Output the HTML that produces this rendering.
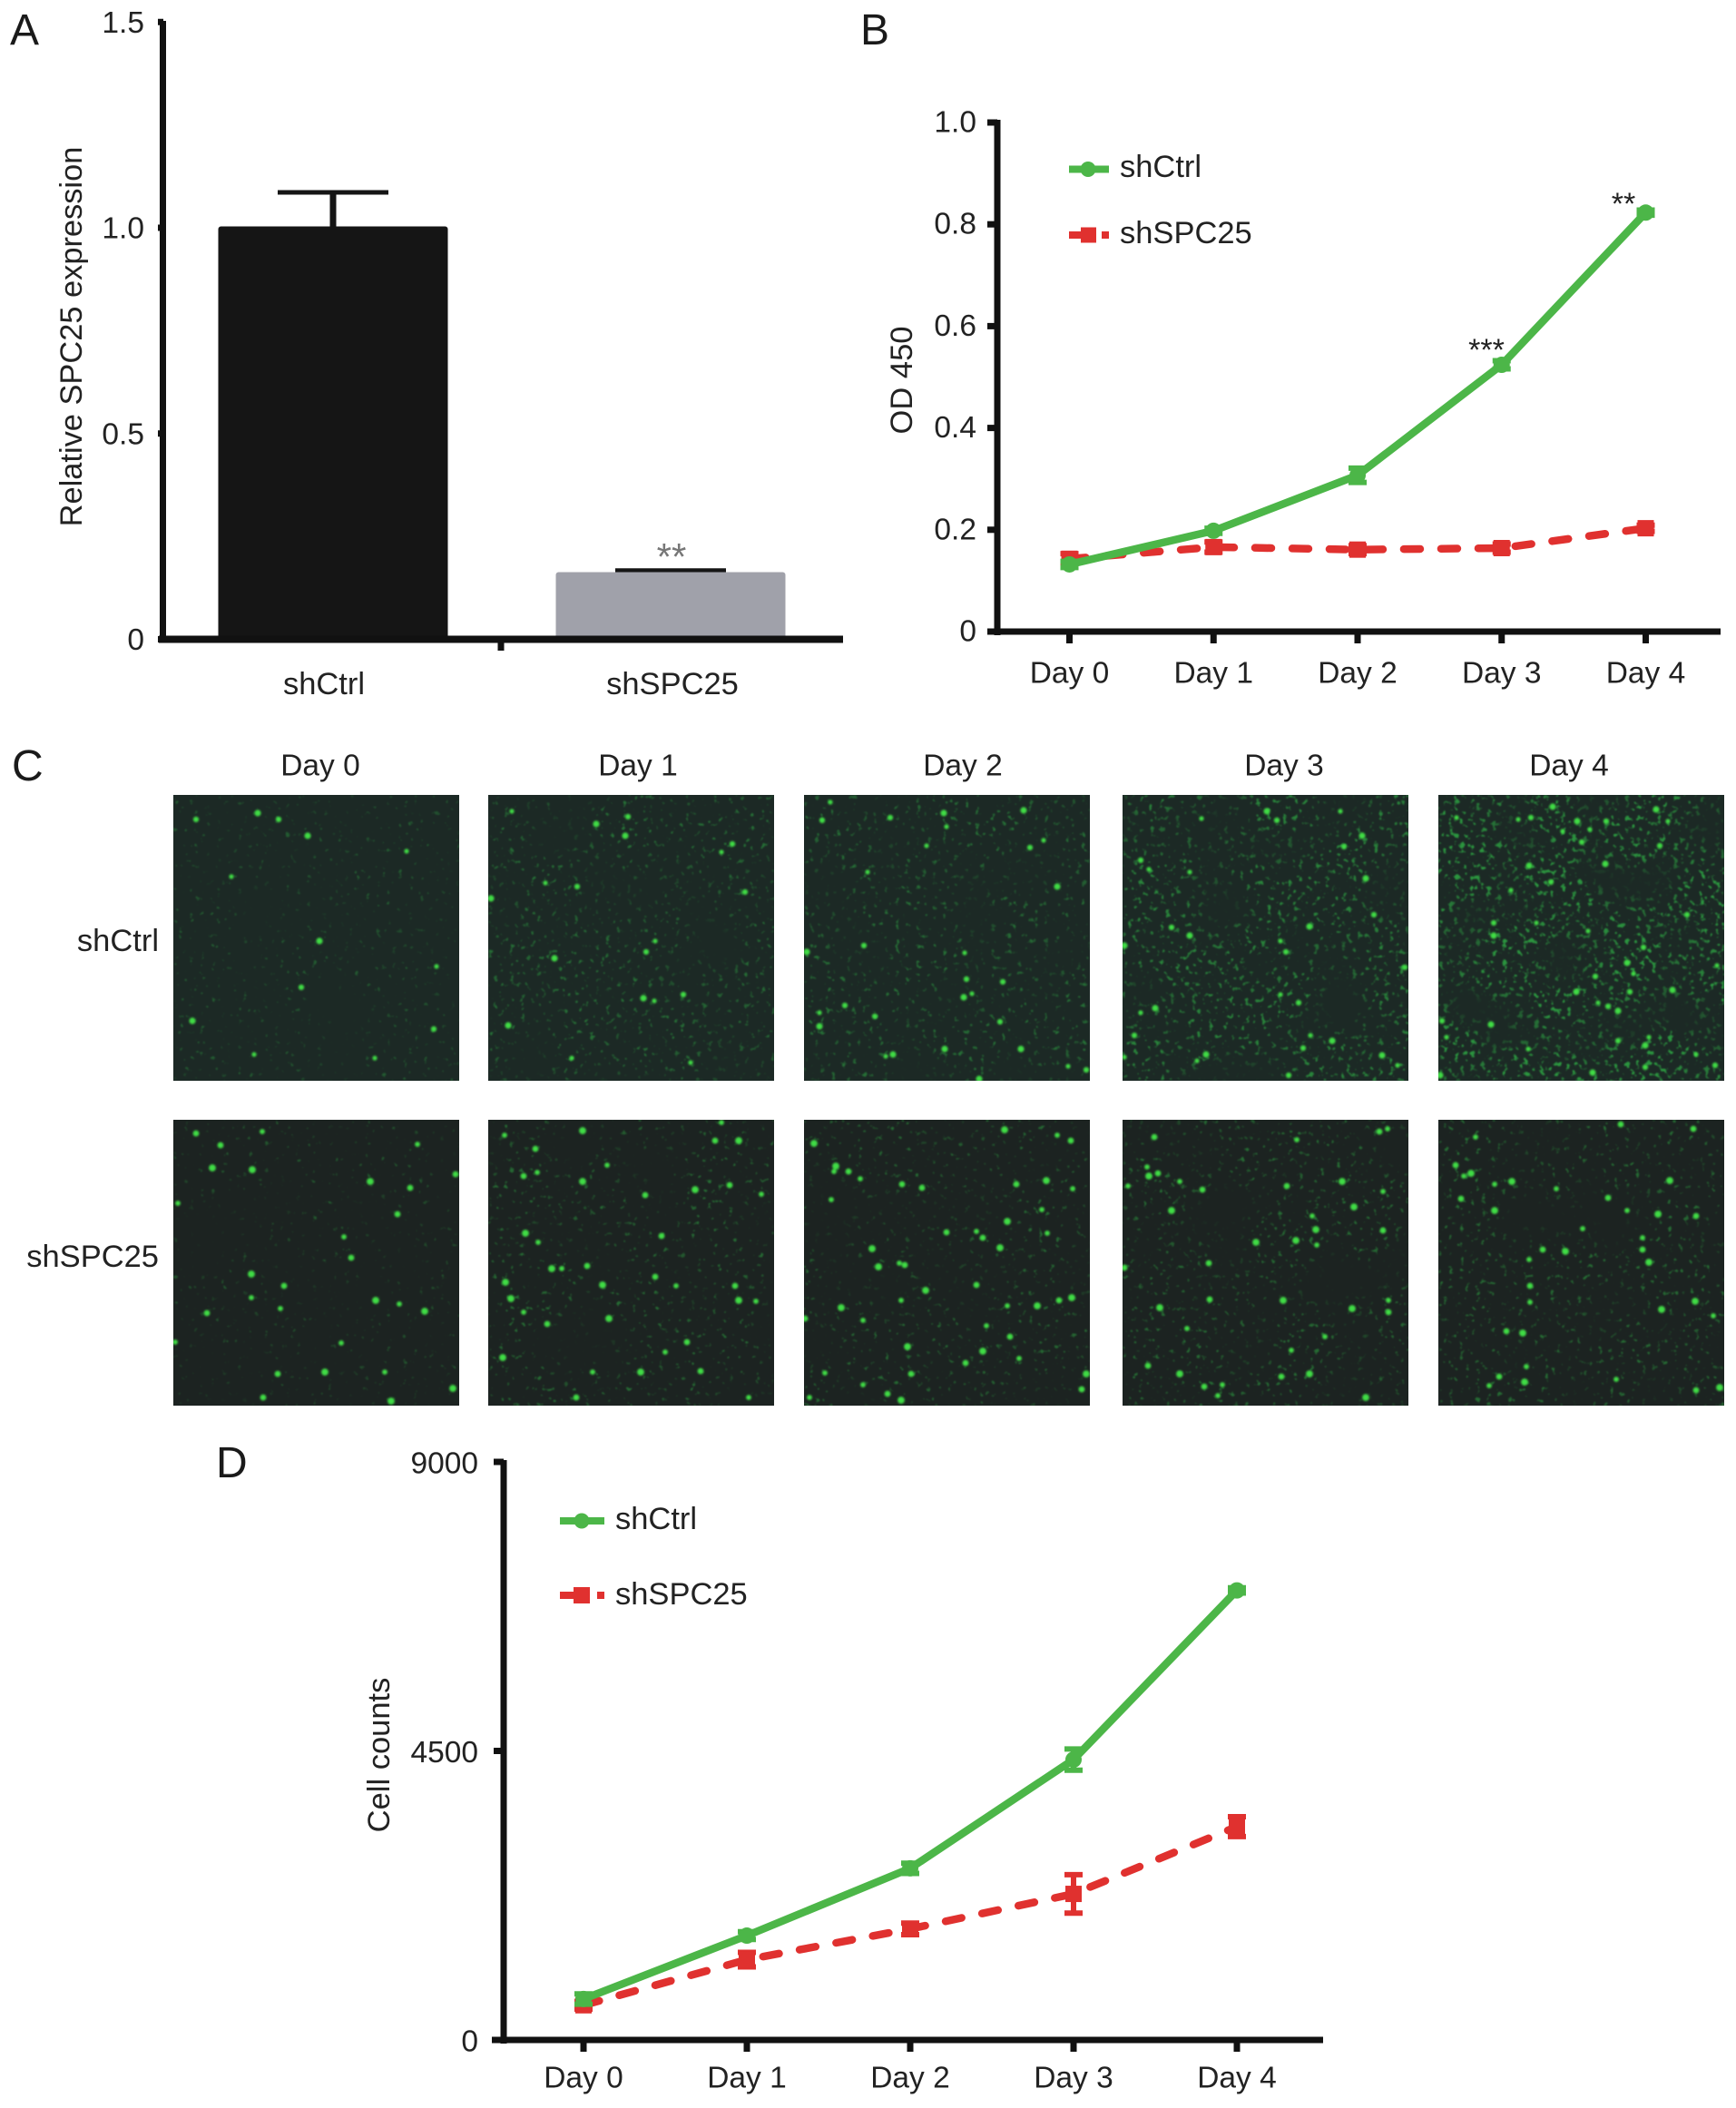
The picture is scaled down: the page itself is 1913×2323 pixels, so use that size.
<!DOCTYPE html>
<html lang="en">
<head>
<meta charset="utf-8">
<title>SPC25 knockdown figure</title>
<style>
  html, body { margin: 0; padding: 0; background: #fff; }
  svg { display: block; }
  text { font-family: "Liberation Sans", sans-serif; fill: #222; font-size: 34.5px; }
  .tick { font-size: 33.5px; }
  .letter { font-size: 48px; fill: #1a1a1a; }
</style>
</head>
<body>
<svg id="figure" xmlns="http://www.w3.org/2000/svg" width="1913" height="2323" viewBox="0 0 1913 2323">
  <rect x="0" y="0" width="1913" height="2323" fill="#ffffff"/>
  <defs id="filters">
    <filter id="spot-blur" x="-5%" y="-5%" width="110%" height="110%"><feGaussianBlur stdDeviation="1"/></filter>
  </defs>

  <text class="letter" x="11" y="49">A</text>
  <text class="letter" x="948" y="49">B</text>
  <text class="letter" x="13" y="860">C</text>
  <text class="letter" x="238" y="1628">D</text>

  <g id="panel-a">
    <text transform="translate(79 371) rotate(-90)" text-anchor="middle" dominant-baseline="central" style="font-size:34.4px">Relative SPC25 expression</text>
  </g>

  <g id="panel-b">
    <text transform="translate(994 419) rotate(-90)" text-anchor="middle" dominant-baseline="central">OD 450</text>
    <line x1="1178" y1="186.5" x2="1222" y2="186.5" stroke="#4cb648" stroke-width="8"/>
    <circle cx="1199" cy="186.5" r="8.5" fill="#4cb648"/>
    <text x="1234" y="184" dominant-baseline="central">shCtrl</text>
    <line x1="1178" y1="259" x2="1222" y2="259" stroke="#e0312f" stroke-width="8" stroke-dasharray="26 10 8"/>
    <rect x="1191" y="250.500" width="17" height="17" fill="#e0312f"/>
    <text x="1234" y="257" dominant-baseline="central">shSPC25</text>
    <text x="1789" y="236" text-anchor="middle" style="font-size:34px">**</text>
    <text x="1638" y="397" text-anchor="middle" style="font-size:34px">***</text>
  </g>

  <g id="panel-c">
    <text x="175" y="1037" text-anchor="end" dominant-baseline="central">shCtrl</text>
    <text x="175" y="1385" text-anchor="end" dominant-baseline="central">shSPC25</text>
  </g>

  <g id="panel-d">
    <text transform="translate(418 1934) rotate(-90)" text-anchor="middle" dominant-baseline="central">Cell counts</text>
    <line x1="617" y1="1676" x2="666" y2="1676" stroke="#4cb648" stroke-width="8"/>
    <circle cx="641" cy="1676" r="8.5" fill="#4cb648"/>
    <text x="678" y="1674" dominant-baseline="central">shCtrl</text>
    <line x1="617" y1="1758" x2="666" y2="1758" stroke="#e0312f" stroke-width="8" stroke-dasharray="30 11 8"/>
    <rect x="632" y="1749" width="18" height="18" fill="#e0312f"/>
    <text x="678" y="1757" dominant-baseline="central">shSPC25</text>
  </g>
</svg>

<script>
// ---- Panel A data ----
const barCategories = ["shCtrl", "shSPC25"];
const barValues = [1.0, 0.16];
const barErrors = [0.086, 0.007];
const barTickValues = [0, 0.5, 1.0, 1.5];
const barTickLabels = ["0", "0.5", "1.0", "1.5"];

// ---- Panel B data ----
const dayLabels = ["Day 0", "Day 1", "Day 2", "Day 3", "Day 4"];
const odTickValues = [0, 0.2, 0.4, 0.6, 0.8, 1.0];
const odTickLabels = ["0", "0.2", "0.4", "0.6", "0.8", "1.0"];
const odShCtrl = [0.132, 0.198, 0.307, 0.524, 0.823];
const odShCtrlErr = [0.006, 0.005, 0.014, 0.008, 0.005];
const odShSPC25 = [0.143, 0.166, 0.161, 0.164, 0.203];
const odShSPC25Err = [0.01, 0.01, 0.008, 0.008, 0.006];

// ---- Panel D data ----
const countTickValues = [0, 4500, 9000];
const countTickLabels = ["0", "4500", "9000"];
const countShCtrl = [637, 1624, 2672, 4365, 6999];
const countShCtrlErr = [80, 60, 80, 165, 40];
const countShSPC25 = [540, 1250, 1729, 2274, 3321];
const countShSPC25Err = [60, 113, 90, 300, 155];

// ---- Panel C content: bright cells (x,y pairs, 315px tile) ----
const ctrlSpots = [
 [257,62,141,212,21,249,89,286,287,258,161,161,222,290,116,27,148,45,64,90,25,27,93,20,290,189],
 [26,18,154,24,119,32,257,63,269,54,3,114,63,97,98,101,73,180,184,161,174,173,171,224,183,227,215,220,22,254,92,290,283,107,151,45,223,295],
 [29,8,20,28,154,20,157,35,95,25,242,17,264,50,249,58,279,101,70,85,66,166,3,173,177,174,179,203,176,223,185,219,45,232,17,255,17,240,78,244,98,286,90,288,216,250,239,280,291,299,311,303,193,313,135,56,219,206,155,280],
 [87,26,170,28,159,18,240,18,244,57,264,45,29,82,20,72,268,92,174,161,180,173,206,145,174,220,194,229,36,235,20,240,13,265,92,286,82,293,183,309,231,271,207,265,199,279,286,287,303,298,311,190,74,155,74,85,277,132,2,166,2,289,54,146],
 [88,27,102,25,153,29,167,38,185,29,240,16,253,29,244,56,184,76,108,141,61,141,61,155,165,150,226,168,208,185,307,188,173,200,152,217,176,229,187,233,198,238,215,197,211,217,258,215,9,267,4,249,58,253,99,280,198,271,228,276,232,267,228,300,170,306,284,286,305,298,2,309,20,25,274,132,126,13,137,40,158,52,100,78,80,105,124,96]
];
const knockdownSpots = [
 [269,27,52,28,43,53,5,92,261,75,217,68,188,129,196,152,223,199,118,208,37,213,277,211,185,246,115,280,167,278,233,278,99,306,308,296,86,196,122,183,86,170,249,203,247,104,87,55,98,13,25,15,240,310,2,245,311,60],
 [18,17,52,32,104,12,54,58,39,62,104,68,131,50,250,23,276,23,257,3,266,72,228,77,301,82,173,83,41,125,55,135,191,128,70,164,81,164,109,161,19,179,207,183,272,183,276,199,295,200,184,173,25,197,39,212,65,225,133,219,195,256,219,245,16,262,115,278,97,306,168,278,287,306,234,277,126,182],
 [279,17,294,23,221,11,62,65,49,57,35,51,33,57,108,71,11,26,30,88,234,71,267,67,296,76,130,75,75,142,105,158,111,160,82,162,190,123,197,130,224,112,268,125,157,124,216,141,262,99,190,182,134,188,107,199,281,199,295,196,65,221,1,219,41,207,201,227,227,239,197,255,237,263,178,268,114,250,23,279,118,280,311,280,65,292,92,302,107,309,6,306,306,297,257,205,224,205],
 [27,52,39,59,29,62,63,68,88,77,242,68,292,10,283,13,255,96,287,79,287,122,213,121,209,106,181,73,147,135,192,22,35,19,54,100,6,73,96,198,177,199,293,199,293,212,41,207,71,230,28,271,63,280,186,254,175,283,206,280,110,292,90,294,268,306,223,239,95,158,253,208,105,304,2,163,191,133,214,138],
 [41,19,281,10,36,59,28,62,19,50,81,68,62,71,25,87,62,100,130,76,187,86,255,67,208,100,284,106,242,104,225,130,225,143,232,157,159,120,115,143,140,145,101,201,101,183,283,200,303,216,75,233,93,235,56,293,67,283,95,289,97,272,284,298,310,295,196,286,201,5,246,209,100,154]
];
const ctrlSpeckle = [[0.68,0.3],[0.64,0.42],[0.64,0.42],[0.61,0.55],[0.58,0.66]];
const knockdownSpeckle = [[0.69,0.3],[0.66,0.42],[0.66,0.4],[0.65,0.42],[0.65,0.42]];

const NS = "http://www.w3.org/2000/svg";
const GREEN = "#4cb648", RED = "#e0312f", AXIS = "#111111";

function make(tag, parent, attrs, content) {
  const node = document.createElementNS(NS, tag);
  for (const k in attrs) node.setAttribute(k, attrs[k]);
  if (content !== undefined) node.textContent = content;
  parent.appendChild(node);
  return node;
}

// ---------- Panel A ----------
const yA = v => 704.5 - v * 453.5;
const xA = i => 367 + i * 372;
const panelA = document.getElementById("panel-a");
const barFills = ["#151515", "#a0a1aa"];
barValues.forEach((v, i) => {
  const stem = make("line", panelA, { x1: xA(i), x2: xA(i), y1: yA(v), y2: yA(v + barErrors[i]), stroke: "#151515", "stroke-width": 7 });
  
  
  const cap = make("line", panelA, { x1: xA(i) - 61, x2: xA(i) + 61, y1: yA(v + barErrors[i]), y2: yA(v + barErrors[i]), stroke: "#151515", "stroke-width": 5 });
  
  
  const bar = make("rect", panelA, { x: xA(i) - 126.5, y: yA(v) - 1.5, width: 253, height: yA(0) - yA(v) + 1.5, rx: 3, fill: barFills[i] });
  
  
  const label = make("text", panelA, { x: i === 0 ? 357 : 741, y: 754, "text-anchor": "middle", "dominant-baseline": "central" }, barCategories[i]);
  
  
});
const starsA = make("text", panelA, { x: xA(1) + 1, y: 628, "text-anchor": "middle", style: "font-size:42px;fill:#777" }, "**");


const axisAy = make("line", panelA, { x1: 179.5, x2: 179.5, y1: 23, y2: 708, stroke: AXIS, "stroke-width": 7 });


const axisAx = make("line", panelA, { x1: 175, x2: 929, y1: 704.5, y2: 704.5, stroke: AXIS, "stroke-width": 8 });


const midTick = make("line", panelA, { x1: 552, x2: 552, y1: 704.5, y2: 717, stroke: AXIS, "stroke-width": 7 });


barTickValues.forEach((v, i) => {
  const tick = make("line", panelA, { x1: 174, x2: 180, y1: yA(v), y2: yA(v), stroke: AXIS, "stroke-width": 7 });
  
  
  const label = make("text", panelA, { class: "tick", x: 159, y: yA(v) + 1, "text-anchor": "end", "dominant-baseline": "central" }, barTickLabels[i]);
  
  
});

// ---------- Line charts ----------
function drawSeries(parent, x, y, values, errors, color, dashed, square) {
  const pts = values.map((v, i) => x(i) + "," + y(v)).join(" ");
  const line = make("polyline", parent, { points: pts, fill: "none", stroke: color, "stroke-width": 8.5, "stroke-linejoin": "round" });
  
  
  if (dashed) {
    line.setAttribute("stroke-dasharray", "18 23");
    line.setAttribute("stroke-linecap", "round");
  }
  values.forEach((v, i) => {
    const e = errors[i];
    const bar = make("path", parent, {
      d: "M" + (x(i) - 10) + " " + y(v + e) + "H" + (x(i) + 10) + "M" + (x(i) - 10) + " " + y(v - e) + "H" + (x(i) + 10) + "M" + x(i) + " " + y(v + e) + "V" + y(v - e),
      fill: "none", stroke: color, "stroke-width": 6
    });
    
    
    if (square) {
      const m = make("rect", parent, { x: x(i) - 9, y: y(v) - 9, width: 18, height: 18, fill: color });
      
      
    } else {
      const m = make("circle", parent, { cx: x(i), cy: y(v), r: 9, fill: color });
      
      
    }
  });
}

function drawAxes(parent, o) {
  const yAxis = make("line", parent, { x1: o.axisX, x2: o.axisX, y1: o.top, y2: o.base + 4, stroke: AXIS, "stroke-width": 7 });
  
  
  const xAxis = make("line", parent, { x1: o.xStart, x2: o.xEnd, y1: o.base, y2: o.base, stroke: AXIS, "stroke-width": 7 });
  
  
  o.tickValues.forEach((v, i) => {
    const tick = make("line", parent, { x1: o.axisX - 11, x2: o.axisX, y1: o.y(v), y2: o.y(v), stroke: AXIS, "stroke-width": 7 });
    
    
    const label = make("text", parent, { class: "tick", x: o.labelRight, y: o.y(v) + o.labelNudge, "text-anchor": "end", "dominant-baseline": "central" }, o.tickLabels[i]);
    
    
  });
  dayLabels.forEach((d, i) => {
    const tick = make("line", parent, { x1: o.x(i), x2: o.x(i), y1: o.base, y2: o.base + 13, stroke: AXIS, "stroke-width": 7 });
    
    
    const label = make("text", parent, { class: "tick", x: o.x(i), y: o.catY, "text-anchor": "middle", "dominant-baseline": "central" }, d);
    
    
  });
}

// Panel B
const yB = v => 696 - v * 561;
const xB = i => 1178.5 + i * 158.75;
const panelB = document.getElementById("panel-b");
drawAxes(panelB, { axisX: 1099, top: 132, base: 696, xStart: 1090, xEnd: 1896, y: yB, x: xB, tickValues: odTickValues, tickLabels: odTickLabels, labelRight: 1076, catY: 742, labelNudge: 0 });
drawSeries(panelB, xB, yB, odShSPC25, odShSPC25Err, RED, true, true);
drawSeries(panelB, xB, yB, odShCtrl, odShCtrlErr, GREEN, false, false);

// Panel D
const yD = v => 2248 - v * (637 / 9000);
const xD = i => 643 + i * 180;
const panelD = document.getElementById("panel-d");
drawAxes(panelD, { axisX: 555, top: 1609, base: 2248, xStart: 542, xEnd: 1458, y: yD, x: xD, tickValues: countTickValues, tickLabels: countTickLabels, labelRight: 527, catY: 2290, labelNudge: 2 });
drawSeries(panelD, xD, yD, countShSPC25, countShSPC25Err, RED, true, true);
drawSeries(panelD, xD, yD, countShCtrl, countShCtrlErr, GREEN, false, false);

// ---------- Panel C ----------
const panelC = document.getElementById("panel-c");
const filterDefs = document.getElementById("filters");
const tileX = [191, 538, 886, 1237, 1585];
const tileY = [876, 1234];
const headerX = [353, 703, 1061, 1415, 1729];
const rowColors = ["#1c2925", "#1c2321"];
const rowNames = ["shctrl", "shspc25"];

function addSpeckleFilter(id, seed, threshold) {
  const a = 8;
  const f = make("filter", filterDefs, { id: id, x: "0", y: "0", width: "100%", height: "100%", "color-interpolation-filters": "sRGB" });
  make("feTurbulence", f, { type: "fractalNoise", baseFrequency: "0.17", numOctaves: "2", seed: seed, result: "fine" });
  make("feColorMatrix", f, { in: "fine", values: "0 0 0 0 0.2  0 0 0 0 0.8  0 0 0 0 0.3  " + a + " 0 0 0 " + (-a * threshold), result: "speck" });
  make("feTurbulence", f, { type: "fractalNoise", baseFrequency: "0.014", numOctaves: "2", seed: seed + 40, result: "coarse" });
  make("feColorMatrix", f, { in: "coarse", values: "0 0 0 0 0  0 0 0 0 0  0 0 0 0 0  3 0 0 0 -0.7", result: "mask" });
  make("feComposite", f, { in: "speck", in2: "mask", operator: "in", result: "masked" });
  make("feGaussianBlur", f, { in: "masked", stdDeviation: "0.8" });
}

dayLabels.forEach((d, i) => {
  const header = make("text", panelC, { class: "tick", x: headerX[i], y: 844, "text-anchor": "middle", "dominant-baseline": "central" }, d);
  
  
  [ctrlSpots, knockdownSpots].forEach((spotSet, row) => {
    const params = (row === 0 ? ctrlSpeckle : knockdownSpeckle)[i];
    const clip = "tile-" + row + "-" + i;
    const cp = make("clipPath", filterDefs, { id: clip });
    make("rect", cp, { x: 0, y: 0, width: 315, height: 315 });
    const g = make("g", panelC, { transform: "translate(" + tileX[i] + " " + tileY[row] + ")", "clip-path": "url(#" + clip + ")" });
    
    
    const bg = make("rect", g, { x: 0, y: 0, width: 315, height: 315, fill: rowColors[row] });
    
    
    const fid = "speckle-" + row + "-" + i;
    addSpeckleFilter(fid, 3 + row * 10 + i * 7, params[0]);
    const noise = make("rect", g, { x: 0, y: 0, width: 315, height: 315, filter: "url(#" + fid + ")", opacity: params[1] });
    
    
    const spots = make("g", g, { filter: "url(#spot-blur)", fill: "#3fdc44" });
    
    
    const list = spotSet[i];
    for (let k = 0; k < list.length; k += 2) {
      const c = make("circle", spots, { cx: list[k], cy: list[k + 1], r: (row === 0 ? 2.6 : 2.9) + (k % 6) * 0.25 });
      
      
    }
  });
});
</script>
</body>
</html>
